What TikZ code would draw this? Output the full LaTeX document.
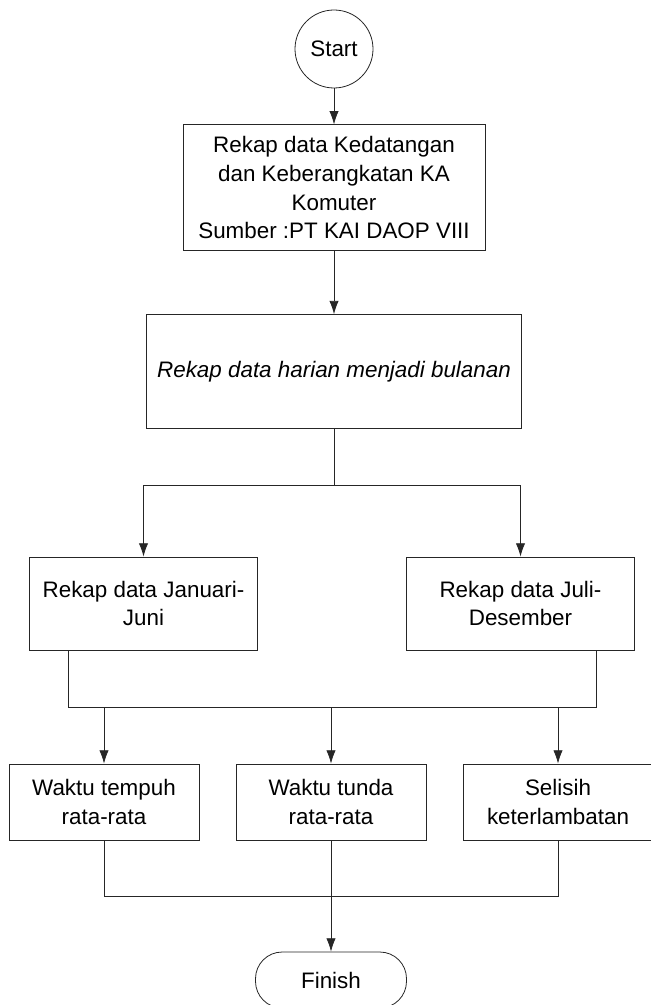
\documentclass[tikz,border=0pt]{standalone}
\usepackage{fontspec}
\setmainfont{Liberation Sans}
\usepackage{tikz}
\usetikzlibrary{shapes,arrows,arrows.meta,positioning,calc}

\begin{document}
\begin{tikzpicture}[x=0.75pt, y=-0.75pt, >={Latex[length=10pt,width=7pt]},
    font=\fontsize{16.8}{21.5}\selectfont, draw=black!85, text=black]
    \tikzstyle{block} = [draw, rectangle, align=center, inner sep=2pt, line width=0.6pt]
    \tikzstyle{half} = [block, minimum width=171pt, minimum height=69.75pt]
    \tikzstyle{result} = [block, minimum width=142.5pt, minimum height=57pt]
    \tikzstyle{line} = [draw, ->, line width=0.6pt]

    \useasboundingbox (0,0) rectangle (650,1005);

    \node [draw, circle, line width=0.6pt, minimum size=58.5pt, inner sep=0pt] (start) at (334,49) {Start};
    \node [block, below=27pt of start, minimum width=226.5pt, minimum height=94.5pt] (rekap) {Rekap data Kedatangan\\dan Keberangkatan KA\\Komuter\\Sumber :PT KAI DAOP VIII};
    \node [block, below=47.25pt of rekap, minimum width=281.25pt, minimum height=85.5pt,
        font=\fontsize{16.8}{21.5}\selectfont\itshape] (bulanan) {Rekap data harian menjadi bulanan};

    % semester
    \node [half] (janjun) at (143.5,603.5) {Rekap data Januari-\\Juni};
    \node [half] (juldes) at (520.5,603.5) {Rekap data Juli-\\Desember};

    % hasil
    \node [result] (tempuh) at (104,802) {Waktu tempuh\\rata-rata};
    \node [result] (tunda) at (331,802) {Waktu tunda\\rata-rata};
    \node [result] (selisih) at (558,802) {Selisih\\keterlambatan};

    \node [draw, rectangle, rounded corners=20pt, line width=0.6pt, minimum width=113.25pt, minimum height=42pt] (finish) at (331,980) {Finish};

    \coordinate [below=42pt of bulanan] (split);
    \coordinate (mergeL) at (68,707);
    \coordinate (mergeR) at (596,707);
    \coordinate (joinF) at (331,896);

    \draw [line] (start) -- (rekap);
    \draw [line] (rekap) -- (bulanan);
    \draw [line width=0.6pt] (bulanan) -- (split);
    \draw [line] (split) -| (janjun);
    \draw [line] (split) -| (juldes);

    \draw [line width=0.6pt] (janjun.south -| mergeL) -- (mergeL) -- (mergeR) -- (juldes.south -| mergeR);
    \draw [line] (mergeL -| tempuh) -- (tempuh);
    \draw [line] (mergeL -| tunda) -- (tunda);
    \draw [line] (mergeL -| selisih) -- (selisih);

    \draw [line width=0.6pt] (tempuh) |- (joinF) -| (selisih);
    \draw [line] (tunda) -- (finish);
\end{tikzpicture}
\end{document}
